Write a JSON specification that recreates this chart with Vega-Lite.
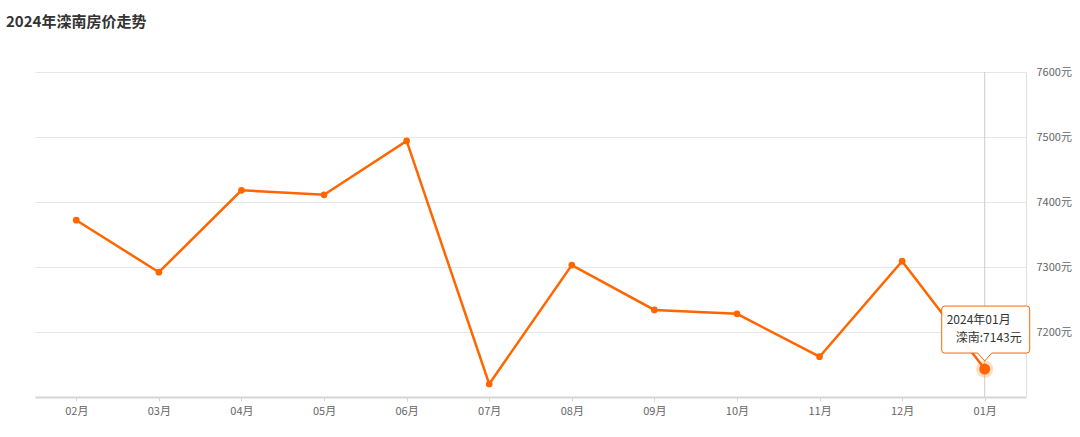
{
  "$schema": "https://vega.github.io/schema/vega-lite/v6.json",
  "width": 991,
  "height": 325,
  "autosize": {"type": "none"},
  "padding": {"left": 35, "top": 72, "right": 54, "bottom": 40},
  "background": "white",
  "title": {"text": "2024年滦南房价走势", "anchor": "start", "dx": -29, "offset": 36, "fontSize": 15, "fontWeight": "bold", "color": "#333333", "font": "Noto Sans CJK SC"},
  "config": {"font": "Noto Sans CJK SC", "view": {"stroke": null}},
  "datasets": {
    "prices": [
      {"month": "02月", "price": 7372},
      {"month": "03月", "price": 7292},
      {"month": "04月", "price": 7418},
      {"month": "05月", "price": 7411},
      {"month": "06月", "price": 7494},
      {"month": "07月", "price": 7120},
      {"month": "08月", "price": 7303},
      {"month": "09月", "price": 7234},
      {"month": "10月", "price": 7228},
      {"month": "11月", "price": 7162},
      {"month": "12月", "price": 7309},
      {"month": "01月", "price": 7143}
    ],
    "highlight": [
      {"month": "01月", "price": 7143, "date": "2024年01月", "label": "滦南:7143元"}
    ]
  },
  "encoding": {
    "x": {
      "field": "month", "type": "ordinal",
      "scale": {"type": "point", "padding": 0.5, "domain": ["02月","03月","04月","05月","06月","07月","08月","09月","10月","11月","12月","01月"]},
      "axis": {"title": null, "labelAngle": 0, "grid": false, "domainColor": "#d6d6d6", "domainWidth": 2, "tickColor": "#d6d6d6", "tickSize": 4, "labelPadding": 4, "labelColor": "#666666", "labelFontSize": 11}
    },
    "y": {
      "field": "price", "type": "quantitative",
      "scale": {"domain": [7100, 7600], "nice": false, "zero": false},
      "axis": {"orient": "right", "title": null, "values": [7200, 7300, 7400, 7500, 7600], "labelExpr": "datum.value + '元'", "ticks": false, "labelPadding": 10, "labelColor": "#666666", "labelFontSize": 11, "domainColor": "#e0e0e0", "gridColor": "#e6e6e6", "gridWidth": 1}
    }
  },
  "layer": [
    {
      "data": {"name": "highlight"},
      "mark": {"type": "rule", "color": "#cccccc", "strokeWidth": 1},
      "encoding": {"y": {"datum": 7600}, "y2": {"datum": 7100}}
    },
    {
      "data": {"name": "prices"},
      "mark": {"type": "line", "color": "#ff6600", "strokeWidth": 2.5}
    },
    {
      "data": {"name": "prices"},
      "mark": {"type": "point", "filled": true, "color": "#ff6600", "size": 45, "opacity": 1}
    },
    {
      "data": {"name": "highlight"},
      "mark": {"type": "point", "filled": true, "color": "#ff6600", "size": 300, "opacity": 0.22}
    },
    {
      "data": {"name": "highlight"},
      "mark": {"type": "point", "filled": true, "color": "#ff6600", "size": 120, "opacity": 1}
    },
    {
      "data": {"name": "highlight"},
      "mark": {"type": "point", "shape": "M -0.8 -1.26 L 0.84 -1.26 Q 0.9 -1.26 0.9 -1.2 L 0.9 -0.38 Q 0.9 -0.32 0.84 -0.32 L 0.14 -0.32 L 0 -0.16 L -0.14 -0.32 L -0.8 -0.32 Q -0.86 -0.32 -0.86 -0.38 L -0.86 -1.2 Q -0.86 -1.26 -0.8 -1.26 Z", "size": 10000, "fill": "white", "fillOpacity": 0.95, "stroke": "#ff6600", "strokeWidth": 1, "opacity": 1}
    },
    {
      "data": {"name": "highlight"},
      "mark": {"type": "text", "align": "left", "baseline": "middle", "dx": -38, "dy": -49, "fontSize": 12, "color": "#333333"},
      "encoding": {"text": {"field": "date"}}
    },
    {
      "data": {"name": "highlight"},
      "mark": {"type": "text", "align": "right", "baseline": "middle", "dx": 37, "dy": -31, "fontSize": 12, "color": "#333333"},
      "encoding": {"text": {"field": "label"}}
    }
  ]
}
